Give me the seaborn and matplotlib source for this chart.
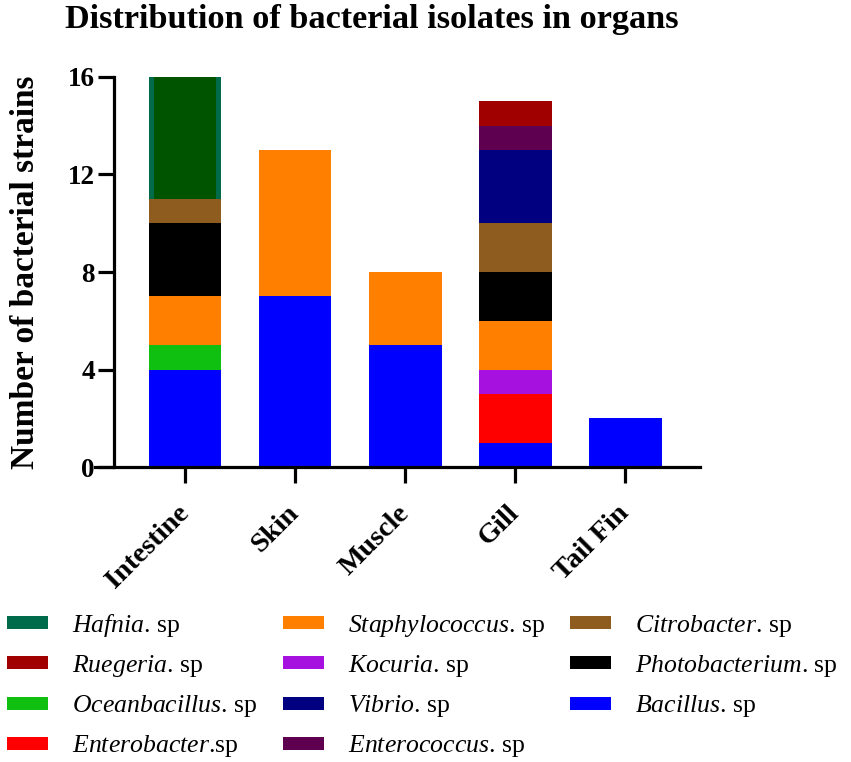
import numpy as np
import pandas as pd
import matplotlib
matplotlib.use("Agg")
import matplotlib.pyplot as plt
import seaborn as sns
from matplotlib.patches import Patch

organs = ["Intestine", "Skin", "Muscle", "Gill", "Tail Fin"]

# number of strains per organ (stacked bottom to top in this order)
bacillus = [4, 7, 5, 1, 2]
enterobacter = [0, 0, 0, 2, 0]
kocuria = [0, 0, 0, 1, 0]
oceanbacillus = [1, 0, 0, 0, 0]
staphylococcus = [2, 6, 3, 2, 0]
photobacterium = [3, 0, 0, 2, 0]
citrobacter = [1, 0, 0, 2, 0]
vibrio = [0, 0, 0, 3, 0]
enterococcus = [0, 0, 0, 1, 0]
ruegeria = [0, 0, 0, 1, 0]
hafnia = [5, 0, 0, 0, 0]

y_ticks = [0, 4, 8, 12, 16]

colors = {
    "Hafnia": "#006b4b",
    "Ruegeria": "#a00000",
    "Oceanbacillus": "#10c010",
    "Enterobacter": "#ff0000",
    "Staphylococcus": "#ff8000",
    "Kocuria": "#a611e0",
    "Vibrio": "#000080",
    "Enterococcus": "#5e004f",
    "Citrobacter": "#8e5c1e",
    "Photobacterium": "#000000",
    "Bacillus": "#0000ff",
}
hafnia_inner = "#005400"

stack = [
    ("Bacillus", bacillus),
    ("Enterobacter", enterobacter),
    ("Kocuria", kocuria),
    ("Oceanbacillus", oceanbacillus),
    ("Staphylococcus", staphylococcus),
    ("Photobacterium", photobacterium),
    ("Citrobacter", citrobacter),
    ("Vibrio", vibrio),
    ("Enterococcus", enterococcus),
    ("Ruegeria", ruegeria),
    ("Hafnia", hafnia),
]

legend_order = ["Hafnia", "Ruegeria", "Oceanbacillus", "Enterobacter",
                "Staphylococcus", "Kocuria", "Vibrio", "Enterococcus",
                "Citrobacter", "Photobacterium", "Bacillus"]

sns.set_theme(style="ticks", rc={"text.color": "black", "axes.labelcolor": "black",
                                 "xtick.color": "black", "ytick.color": "black"})
plt.rcParams["font.family"] = ["Liberation Serif", "DejaVu Serif"]
plt.rcParams["mathtext.fontset"] = "custom"
plt.rcParams["mathtext.rm"] = "Liberation Serif"
plt.rcParams["mathtext.it"] = "Liberation Serif:italic"

fig = plt.figure(figsize=(8.51, 7.62), dpi=100)
ax = fig.add_axes([0.1116, 0.387, 0.711, 0.512])

bottom = np.zeros(len(organs))
for name, vals in stack:
    vals = np.array(vals, dtype=float)
    mask = vals > 0
    df = pd.DataFrame({"organ": np.array(organs)[mask], "n": vals[mask]})
    sns.barplot(data=df, x="organ", y="n", order=organs, color=colors[name],
                width=0.66, saturation=1, errorbar=None, bottom=bottom[mask],
                linewidth=0, ax=ax)
    if name == "Hafnia":
        # darker core with a lighter rim, as in the original
        sns.barplot(data=df, x="organ", y="n", order=organs, color=hafnia_inner,
                    width=0.56, saturation=1, errorbar=None, bottom=bottom[mask],
                    linewidth=0, ax=ax)
    bottom += vals

ax.set_xlim(-0.82, 4.68)
ax.set_ylim(0, 16)
ax.set_yticks(y_ticks)
ax.set_xlabel("")
ax.set_ylabel("")
ax.spines["left"].set_position(("data", -0.65))
ax.spines["top"].set_visible(False)
ax.spines["right"].set_visible(False)
for s in ["left", "bottom"]:
    ax.spines[s].set_linewidth(2.3)
    ax.spines[s].set_color("black")
ax.tick_params(axis="both", length=11.5, width=2.3, color="black", direction="out")
ax.tick_params(axis="y", pad=2, labelsize=19.5)
ax.tick_params(axis="x", pad=19, labelsize=20.5)
for lab in ax.get_yticklabels():
    lab.set_fontweight("bold")
ax.set_xticks(range(len(organs)))
ax.set_xticklabels(organs, rotation=45, ha="right", va="center",
                   rotation_mode="anchor", fontweight="bold")

fig.text(65 / 851, 1 - 28 / 762, "Distribution of bacterial isolates in organs",
         fontsize=24.7, fontweight="bold", ha="left", va="baseline")
fig.text(26 / 851, 1 - 272 / 762, "Number of bacterial strains",
         fontsize=24, fontweight="bold", rotation=90, ha="center", va="center")

handles = []
for name in legend_order:
    sep = "" if name == "Enterobacter" else " "
    handles.append(Patch(facecolor=colors[name], edgecolor="none",
                         label=r"$\mathit{%s}$.%ssp" % (name, sep)))
fig.legend(handles=handles, ncol=3, loc="upper left",
           bbox_to_anchor=(7 / 851, 1 - 612 / 762), frameon=False,
           fontsize=18.5, handlelength=1.6, handleheight=0.4,
           handletextpad=0.92, columnspacing=1.0, labelspacing=0.55,
           borderaxespad=0, borderpad=0)

fig.savefig("out.png", dpi=100)
